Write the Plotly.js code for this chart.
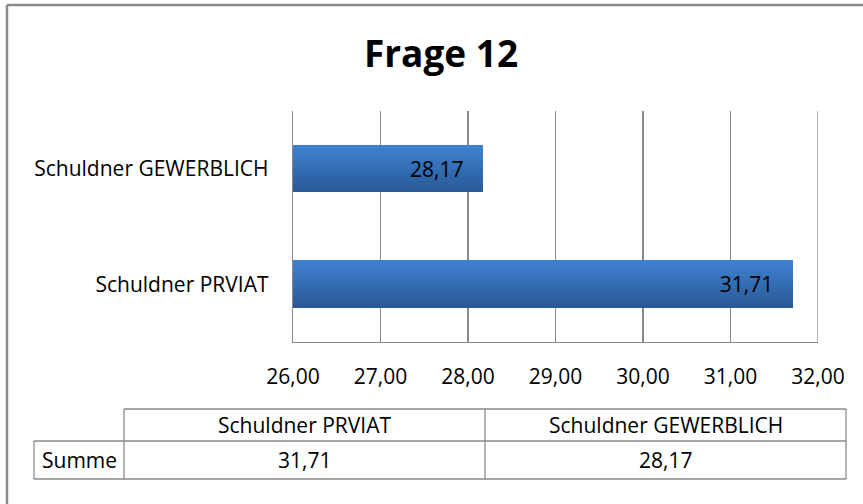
<!DOCTYPE html>
<html>
<head>
<meta charset="utf-8">
<script src="https://cdn.plot.ly/plotly-3.0.1.min.js"></script>
<style>
html,body{margin:0;padding:0;background:#fff;}
#chart{width:863px;height:504px;}
</style>
</head>
<body>
<div id="chart"></div>
<script>
// ---- data ----
const titleText = 'Frage 12';
const categories = ['Schuldner PRVIAT', 'Schuldner GEWERBLICH'];
const values = [31.71, 28.17];
const xTicks = [26, 27, 28, 29, 30, 31, 32];
const tableRowLabel = 'Summe';

// ---- helpers ----
const fmt = v => v.toFixed(2).replace('.', ',');
const FONT = '"Open Sans", Lato, sans-serif';
const FS = 21;
const W = 863, H = 504;
const L = 293, R = 818, T = 111, B = 342;
const px = x => (x - L) / (R - L);
const py = y => (B - y) / (B - T);

// gradient bands for bars
const barW = 0.41;
const nBands = 12;
const cTop = [62, 128, 207], cBot = [42, 90, 152];
const traces = [];
for (let i = 0; i < nBands; i++) {
  const t = i / (nBands - 1);
  const c = cBot.map((b, k) => Math.round(b + (cTop[k] - b) * t));
  traces.push({
    type: 'bar', orientation: 'h',
    y: categories, x: values,
    width: barW / nBands + 0.002,
    offset: -barW / 2 + i * barW / nBands,
    marker: {color: `rgb(${c[0]},${c[1]},${c[2]})`, line: {width: 0}},
    hoverinfo: 'skip', showlegend: false
  });
}
// label trace (transparent) to carry the value text
traces.push({
  type: 'bar', orientation: 'h',
  y: categories, x: values,
  width: barW, offset: -barW / 2,
  marker: {color: 'rgba(0,0,0,0)'},
  text: values.map(v => fmt(v) + '\u00A0\u00A0\u00A0'),
  textposition: 'inside', insidetextanchor: 'end',
  textfont: {family: FONT, size: FS, color: '#000'},
  cliponaxis: false,
  showlegend: false
});

// ---- data table (shapes + annotations) ----
const grey = '#8a8a8a';
const tX0 = 124, tXa = 34, tXm = 485, tX1 = 846;
const tY0 = 409, tY1 = 441, tY2 = 479;
const line = (x0, y0, x1, y1, w) => ({
  type: 'line', xref: 'paper', yref: 'paper',
  x0: px(x0), y0: py(y0), x1: px(x1), y1: py(y1),
  line: {color: grey, width: w || 1.3}
});
const shapes = [
  // outer chart frame (only top & left visible)
  line(7, 5, 900, 5, 2.5),
  line(7, 5, 7, 560, 2.5),
  // right edge of plot at x=32
  {type: 'line', xref: 'x', yref: 'paper', x0: 32, x1: 32, y0: 0, y1: 1, line: {color: grey, width: 1.3}},
  // table
  line(tX0, tY0, tX1, tY0),
  line(tXa, tY1, tX1, tY1),
  line(tXa, tY2, tX1, tY2),
  line(tXa, tY1, tXa, tY2),
  line(tX0, tY0, tX0, tY2),
  line(tXm, tY0, tXm, tY2),
  line(tX1, tY0, tX1, tY2)
];
const colCenters = [(tX0 + tXm) / 2, (tXm + tX1) / 2];
const annotations = [];
categories.forEach((c, i) => {
  annotations.push({xref: 'paper', yref: 'paper', x: px(colCenters[i]), y: py((tY0 + tY1) / 2),
    text: c, showarrow: false, xanchor: 'center', yanchor: 'middle',
    font: {family: FONT, size: FS, color: '#000'}});
  annotations.push({xref: 'paper', yref: 'paper', x: px(colCenters[i]), y: py((tY1 + tY2) / 2),
    text: fmt(values[i]), showarrow: false, xanchor: 'center', yanchor: 'middle',
    font: {family: FONT, size: FS, color: '#000'}});
});
annotations.push({xref: 'paper', yref: 'paper', x: px((tXa + tX0) / 2), y: py((tY1 + tY2) / 2),
  text: tableRowLabel, showarrow: false, xanchor: 'center', yanchor: 'middle',
  font: {family: FONT, size: FS, color: '#000'}});

const layout = {
  width: W, height: H,
  margin: {l: L, r: W - R, t: T, b: H - B, pad: 0},
  paper_bgcolor: '#fff', plot_bgcolor: '#fff',
  title: {text: '<b>' + titleText + '</b>', x: 441 / W, xref: 'container', xanchor: 'center',
    y: 1 - 54 / H, yref: 'container', yanchor: 'middle',
    font: {family: FONT, size: 37, color: '#000'}},
  barmode: 'overlay',
  bargap: 0,
  showlegend: false,
  xaxis: {
    range: [26, 32], tickvals: xTicks, ticktext: xTicks.map(fmt),
    showgrid: true, gridcolor: grey, gridwidth: 1.3,
    showline: true, linecolor: grey, linewidth: 1.3,
    zeroline: false, ticks: 'outside', ticklen: 15, tickcolor: 'rgba(0,0,0,0)',
    tickfont: {family: FONT, size: FS, color: '#000'}, fixedrange: true
  },
  yaxis: {
    type: 'category', categoryorder: 'array', categoryarray: categories,
    range: [-0.5, 1.5],
    showgrid: false, showline: true, linecolor: grey, linewidth: 1.3,
    ticks: 'outside', ticklen: 19, tickcolor: 'rgba(0,0,0,0)',
    tickfont: {family: FONT, size: FS, color: '#000'}, fixedrange: true
  },
  shapes: shapes,
  annotations: annotations
};

Plotly.newPlot('chart', traces, layout, {displayModeBar: false, staticPlot: true});
</script>
</body>
</html>
